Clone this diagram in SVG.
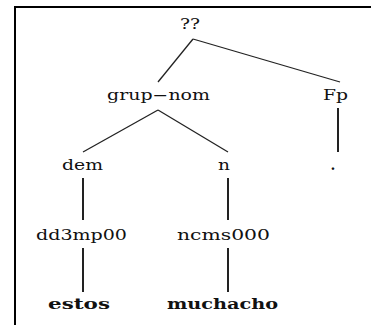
<svg xmlns="http://www.w3.org/2000/svg" width="371" height="325" viewBox="0 0 371 325">
  <style>
    .lbl { font-family: "DejaVu Serif", "Liberation Serif", serif; font-size: 14px; fill: #111; text-anchor: middle; }
    .word { font-weight: bold; }
    .edge { stroke: #222; stroke-width: 1.3; fill: none; }
    .stem { stroke: #222; stroke-width: 2; fill: none; }
    .frame { stroke: #000; stroke-width: 2; fill: none; }
  </style>
  <rect width="371" height="325" fill="#fff"/>
  <!-- frame -->
  <path class="frame" d="M15 326 V7 H372"/>

  <g id="connectors">
    <line class="edge" x1="193" y1="39" x2="158" y2="82"/>
    <line class="edge" x1="193" y1="39" x2="340" y2="82"/>
    <line class="edge" x1="158" y1="110" x2="83" y2="152"/>
    <line class="edge" x1="158" y1="110" x2="228" y2="152"/>
    <line class="stem" x1="338" y1="108" x2="338" y2="152"/>
    <line class="stem" x1="83" y1="178" x2="83" y2="220"/>
    <line class="stem" x1="228" y1="178" x2="228" y2="220"/>
    <line class="stem" x1="83" y1="248" x2="83" y2="292"/>
    <line class="stem" x1="228" y1="248" x2="228" y2="292"/>
  </g>

  <g id="root"><text class="lbl" x="190" y="29" textLength="20" lengthAdjust="spacingAndGlyphs">??</text></g>
  <g id="grup-nom"><text class="lbl" x="158.5" y="100" textLength="103" lengthAdjust="spacingAndGlyphs">grup−nom</text></g>
  <g id="Fp"><text class="lbl" x="335.5" y="100" textLength="25" lengthAdjust="spacingAndGlyphs">Fp</text></g>
  <g id="dem"><text class="lbl" x="82.5" y="170" textLength="41" lengthAdjust="spacingAndGlyphs">dem</text></g>
  <g id="n"><text class="lbl" x="224" y="170" textLength="12" lengthAdjust="spacingAndGlyphs">n</text></g>
  <g id="period"><text class="lbl word" x="333" y="170">.</text></g>
  <g id="dd3mp00"><text class="lbl" x="81.5" y="240" textLength="91" lengthAdjust="spacingAndGlyphs">dd3mp00</text></g>
  <g id="ncms000"><text class="lbl" x="223.5" y="240" textLength="93" lengthAdjust="spacingAndGlyphs">ncms000</text></g>
  <g id="estos"><text class="lbl word" x="79" y="309" textLength="62" lengthAdjust="spacingAndGlyphs">estos</text></g>
  <g id="muchacho"><text class="lbl word" x="222.5" y="309" textLength="111" lengthAdjust="spacingAndGlyphs">muchacho</text></g>
</svg>
